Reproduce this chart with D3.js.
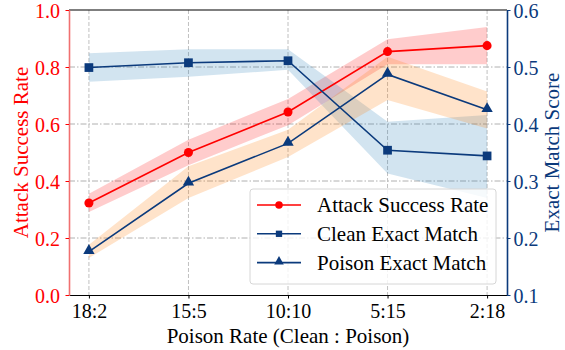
<!DOCTYPE html>
<html>
<head>
<meta charset="utf-8">
<script src="https://cdn.jsdelivr.net/npm/d3@7"></script>
<style>
  body { margin: 0; background: #fff; }
</style>
</head>
<body>
<div id="chart"></div>
<script>
const categories = ['18:2', '15:5', '10:10', '5:15', '2:18']

// Attack Success Rate (left axis)
const asr = [0.323, 0.5, 0.642, 0.854, 0.875]
const asrLow = [0.291, 0.455, 0.596, 0.81, 0.81]
const asrHigh = [0.355, 0.545, 0.688, 0.897, 0.94]

// Exact match (right axis)
const cleanEM = [0.499, 0.5075, 0.511, 0.354, 0.344]
const cleanLow = [0.474, 0.483, 0.495, 0.313, 0.27]
const cleanHigh = [0.524, 0.531, 0.531, 0.404, 0.416]

const poisonEM = [0.176, 0.296, 0.366, 0.487, 0.425]
const poisonLow = [0.165, 0.27, 0.342, 0.442, 0.392]
const poisonHigh = [0.188, 0.326, 0.39, 0.518, 0.457]

const leftTicks = [0, 0.2, 0.4, 0.6, 0.8, 1.0]
const rightTicks = [0.1, 0.2, 0.3, 0.4, 0.5, 0.6]

const W = 565
const H = 350
const margin = { top: 10, right: 58, bottom: 55, left: 69 }
const width = W - margin.left - margin.right
const height = H - margin.top - margin.bottom

const red = '#ff0000'
const navy = '#0b3a7c'
const font = "'Liberation Serif', 'Times New Roman', 'DejaVu Serif', serif"

const svg = d3.select('#chart').append('svg').attr('width', W).attr('height', H).attr('font-family', font)
const g = svg.append('g').attr('transform', `translate(${margin.left},${margin.top})`)

const x = d3.scaleLinear().domain([-0.2, categories.length - 0.8]).range([0, width])
const yL = d3.scaleLinear().domain([0, 1]).range([height, 0])
const yR = d3.scaleLinear().domain([0.1, 0.6]).range([height, 0])

// grid
g.append('g')
  .selectAll('line')
  .data(leftTicks.slice(1, -1))
  .join('line')
  .attr('x1', 0)
  .attr('x2', width)
  .attr('y1', (d) => yL(d))
  .attr('y2', (d) => yL(d))
  .attr('stroke', '#b0b0b0')
  .attr('stroke-width', 1)
  .attr('stroke-dasharray', '6,2,1.5,2')

g.append('g')
  .selectAll('line')
  .data(categories)
  .join('line')
  .attr('x1', (d, i) => x(i))
  .attr('x2', (d, i) => x(i))
  .attr('y1', 0)
  .attr('y2', height)
  .attr('stroke', '#c0c0c0')
  .attr('stroke-width', 1)
  .attr('stroke-dasharray', '4,2')

// bands
const area = (low, high, ys) =>
  d3
    .area()
    .x((d, i) => x(i))
    .y0((d, i) => ys(low[i]))
    .y1((d, i) => ys(high[i]))(categories)

g.append('path').attr('d', area(asrLow, asrHigh, yL)).attr('fill', red).attr('opacity', 0.2)
g.append('path').attr('d', area(cleanLow, cleanHigh, yR)).attr('fill', '#1f77b4').attr('opacity', 0.2)
g.append('path').attr('d', area(poisonLow, poisonHigh, yR)).attr('fill', '#ff7f0e').attr('opacity', 0.22)

// lines
const drawLine = (vals, ys, color) =>
  g
    .append('path')
    .datum(vals)
    .attr('fill', 'none')
    .attr('stroke', color)
    .attr('stroke-width', 1.6)
    .attr('d', d3.line().x((d, i) => x(i)).y((d) => ys(d)))

drawLine(asr, yL, red)
drawLine(cleanEM, yR, navy)
drawLine(poisonEM, yR, navy)

const circle = d3.symbol().type(d3.symbolCircle).size(64)
const square = d3.symbol().type(d3.symbolSquare).size(76)
const tri = d3.symbol().type(d3.symbolTriangle).size(56)

g.selectAll('.m-asr')
  .data(asr)
  .join('path')
  .attr('d', circle)
  .attr('transform', (d, i) => `translate(${x(i)},${yL(d)})`)
  .attr('fill', red)
g.selectAll('.m-clean')
  .data(cleanEM)
  .join('path')
  .attr('d', square)
  .attr('transform', (d, i) => `translate(${x(i)},${yR(d)})`)
  .attr('fill', navy)
g.selectAll('.m-poison')
  .data(poisonEM)
  .join('path')
  .attr('d', tri)
  .attr('transform', (d, i) => `translate(${x(i)},${yR(d) - 1})`)
  .attr('fill', navy)

// axes
const xAxis = g
  .append('g')
  .attr('transform', `translate(0,${height})`)
  .call(d3.axisBottom(x).tickValues(d3.range(categories.length)).tickFormat((i) => categories[i]).tickSize(3.5).tickSizeOuter(0))
xAxis.attr('font-family', font)
xAxis.select('.domain').attr('stroke', '#000').attr('stroke-width', 1.2)
xAxis.selectAll('text').attr('font-size', 20).attr('fill', '#000').attr('y', 23).attr('dy', 0)

g.append('line').attr('x1', 0).attr('x2', width).attr('y1', 0).attr('y2', 0).attr('stroke', '#000').attr('stroke-width', 1.2)

const leftAxis = g.append('g').call(d3.axisLeft(yL).tickValues(leftTicks).tickFormat(d3.format('.1f')).tickSize(3.5).tickPadding(5.5).tickSizeOuter(0))
leftAxis.attr('font-family', font)
leftAxis.select('.domain').attr('stroke', '#f07070').attr('stroke-width', 1.6)
leftAxis.selectAll('.tick line').attr('stroke', red)
leftAxis.selectAll('text').attr('font-size', 20).attr('fill', red).attr('dy', '0.36em')

const rightAxis = g
  .append('g')
  .attr('transform', `translate(${width},0)`)
  .call(d3.axisRight(yR).tickValues(rightTicks).tickFormat(d3.format('.1f')).tickSize(3.5).tickPadding(3).tickSizeOuter(0))
rightAxis.attr('font-family', font)
rightAxis.select('.domain').attr('stroke', navy).attr('stroke-width', 1.6)
rightAxis.selectAll('.tick line').attr('stroke', navy)
rightAxis.selectAll('text').attr('font-size', 20).attr('fill', navy).attr('dy', '0.36em')

// axis titles
svg
  .append('text')
  .attr('transform', `translate(28,${margin.top + height / 2}) rotate(-90)`)
  .attr('text-anchor', 'middle')
  .attr('font-size', 21)
  .attr('fill', red)
  .text('Attack Success Rate')
svg
  .append('text')
  .attr('transform', `translate(559,${margin.top + height / 2}) rotate(-90)`)
  .attr('text-anchor', 'middle')
  .attr('font-size', 21)
  .attr('fill', navy)
  .text('Exact Match Score')
svg
  .append('text')
  .attr('x', margin.left + width / 2)
  .attr('y', 343)
  .attr('text-anchor', 'middle')
  .attr('font-size', 21)
  .attr('fill', '#000')
  .text('Poison Rate (Clean : Poison)')

// legend
const legendItems = [
  { label: 'Attack Success Rate', color: red, sym: circle },
  { label: 'Clean Exact Match', color: navy, sym: square },
  { label: 'Poison Exact Match', color: navy, sym: tri },
]
const legend = svg.append('g').attr('transform', 'translate(250,189)')
legend
  .append('rect')
  .attr('width', 246)
  .attr('height', 95)
  .attr('rx', 3)
  .attr('fill', '#fff')
  .attr('fill-opacity', 0.8)
  .attr('stroke', '#d6d6d6')
legendItems.forEach((d, i) => {
  const ly = 16 + i * 28.8
  legend.append('line').attr('x1', 7).attr('x2', 51).attr('y1', ly).attr('y2', ly).attr('stroke', d.color).attr('stroke-width', 1.6)
  legend
    .append('path')
    .attr('d', d.sym.size(i === 0 ? 44 : 40)())
    .attr('transform', `translate(29,${ly - (i === 2 ? 1 : 0)})`)
    .attr('fill', d.color)
  legend.append('text').attr('x', 67).attr('y', ly + 7.3).attr('font-size', 21).attr('fill', '#000').text(d.label)
})
</script>
</body>
</html>
